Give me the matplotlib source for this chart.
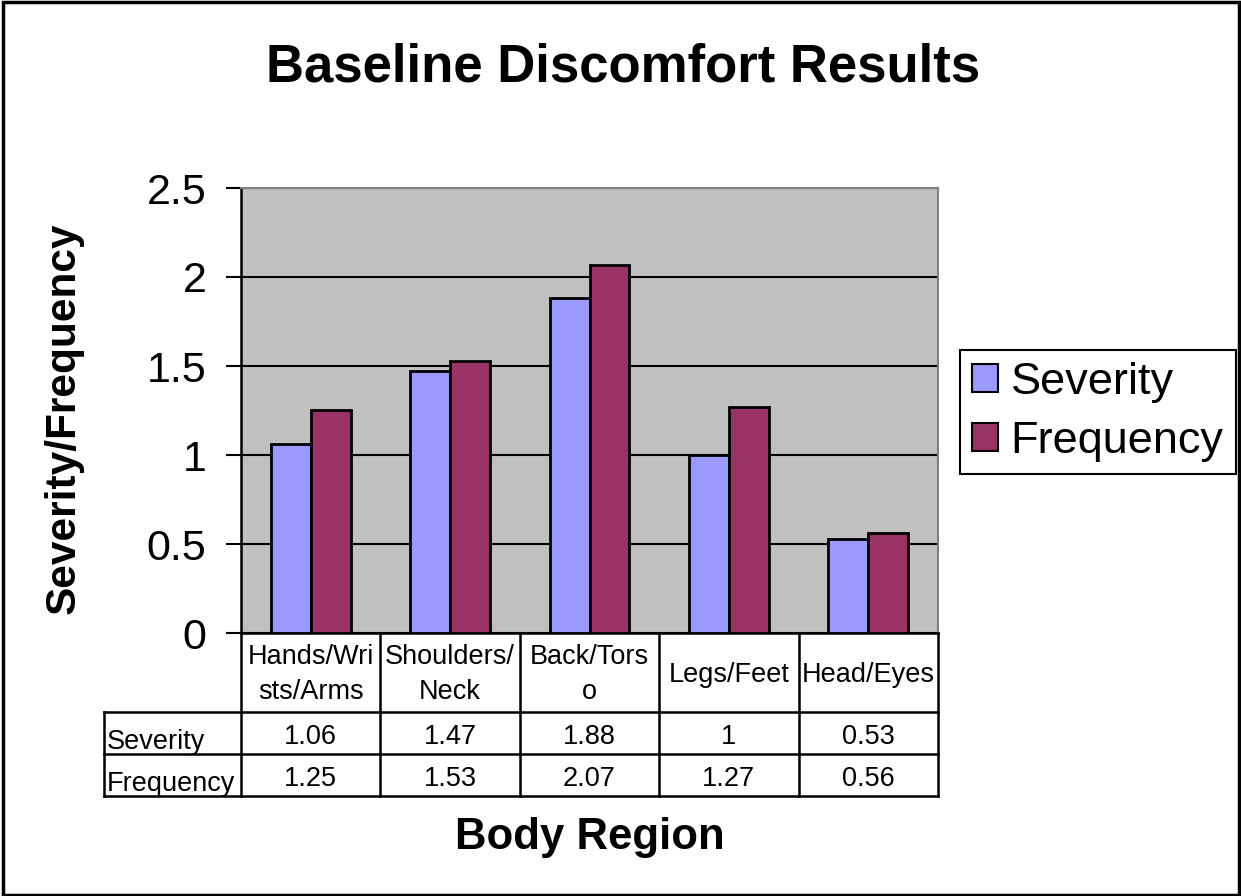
import numpy as np
import matplotlib.pyplot as plt
from matplotlib.patches import Rectangle
import matplotlib.transforms as mtransforms

plt.rcParams['font.family'] = ['Liberation Sans', 'DejaVu Sans']

# データ
categories = ["Hands/Wri\nsts/Arms", "Shoulders/\nNeck", "Back/Tors\no", "Legs/Feet", "Head/Eyes"]
severity = [1.06, 1.47, 1.88, 1, 0.53]
frequency = [1.25, 1.53, 2.07, 1.27, 0.56]
series_names = ["Severity", "Frequency"]
colors = ["#9999FF", "#993366"]
yticks = [0, 0.5, 1, 1.5, 2, 2.5]
ytick_labels = ["0", "0.5", "1", "1.5", "2", "2.5"]

W, H = 1241, 896
fig = plt.figure(figsize=(W / 100, H / 100), dpi=100)

# 外枠
fig.patches.append(Rectangle((3 / W, 1 / H), (W - 5) / W, (H - 3) / H, transform=fig.transFigure,
                             fill=False, edgecolor="black", linewidth=2.5))

# プロット領域（ピクセル指定）
left, right, top, bottom = 241, 938, 188, 633
ax = fig.add_axes([left / W, (H - bottom) / H, (right - left) / W, (bottom - top) / H])
ax.set_facecolor("#C0C0C0")

x = np.arange(len(categories))
w = 1 / 3.5
ax.bar(x - w / 2, severity, w, color=colors[0], edgecolor="black", linewidth=2, label=series_names[0], zorder=3)
ax.bar(x + w / 2, frequency, w, color=colors[1], edgecolor="black", linewidth=2, label=series_names[1], zorder=3)

ax.set_xlim(-0.5, len(categories) - 0.5)
ax.set_ylim(0, 2.5)
ax.set_yticks(yticks)
ax.set_yticklabels(ytick_labels, fontsize=31)
ax.set_xticks([])
ax.tick_params(axis="y", length=11, width=1.5, pad=14)
ax.yaxis.grid(True, color="black", linewidth=1.5, zorder=1)
ax.set_axisbelow(True)
for s in ["top", "right"]:
    ax.spines[s].set_color("#808080")
    ax.spines[s].set_linewidth(1.5)
for s in ["left", "bottom"]:
    ax.spines[s].set_linewidth(1.8)

# データテーブル（x はデータ座標、y はピクセル→軸座標）
ph = bottom - top
def yf(py):
    return (bottom - py) / ph
trans = mtransforms.blended_transform_factory(ax.transData, ax.transAxes)
row_y = [633, 712, 754, 796]
px_per_unit = (right - left) / len(categories)
label_left = -0.5 - (left - 104) / px_per_unit
lw = 1.8
kw = dict(transform=trans, color="black", linewidth=lw, clip_on=False, solid_capstyle="projecting")
# 縦線
for b in np.arange(len(categories) + 1) - 0.5:
    ax.plot([b, b], [yf(row_y[0]), yf(row_y[3])], **kw)
ax.plot([label_left, label_left], [yf(row_y[1]), yf(row_y[3])], **kw)
# 横線
for ry in row_y[1:]:
    ax.plot([label_left, len(categories) - 0.5], [yf(ry), yf(ry)], **kw)

# テーブル文字
tfs = 19.5
for i, c in enumerate(categories):
    ax.text(i, yf((row_y[0] + row_y[1]) / 2 + 2), c, transform=trans, ha="center", va="center",
            fontsize=tfs, linespacing=1.42)
for r, (name, vals) in enumerate(zip(series_names, [severity, frequency])):
    yc = yf((row_y[r + 1] + row_y[r + 2]) / 2 + 4)
    ax.text(label_left + 0.02, yf(row_y[r + 2] - 5), name, transform=trans, ha="left", va="baseline",
            fontsize=tfs)
    for i, v in enumerate(vals):
        ax.text(i, yc, f"{v:g}", transform=trans, ha="center", va="center", fontsize=tfs)

# タイトル・軸ラベル
fig.text(623 / W, 1 - 68 / H, "Baseline Discomfort Results", ha="center", va="center",
         fontsize=38, fontweight="bold")
fig.text(64 / W, 1 - 418 / H, "Severity/Frequency", ha="center", va="center", rotation=90,
         fontsize=30.5, fontweight="bold")
fig.text(590 / W, 1 - 837 / H, "Body Region", ha="center", va="center", fontsize=31.5, fontweight="bold")

# 凡例
leg = fig.legend(loc="upper left", bbox_to_anchor=(960 / W, 1 - 350 / H), fontsize=32.5,
                 frameon=True, fancybox=False, framealpha=1, edgecolor="black",
                 handlelength=0.58, handleheight=0.58, handletextpad=0.27, borderpad=0.27,
                 labelspacing=0.4, borderaxespad=0)
leg.get_frame().set_linewidth(1.5)
for h in leg.legend_handles:
    h.set_linewidth(1.5)

plt.savefig("out.png", dpi=100)
plt.close()
